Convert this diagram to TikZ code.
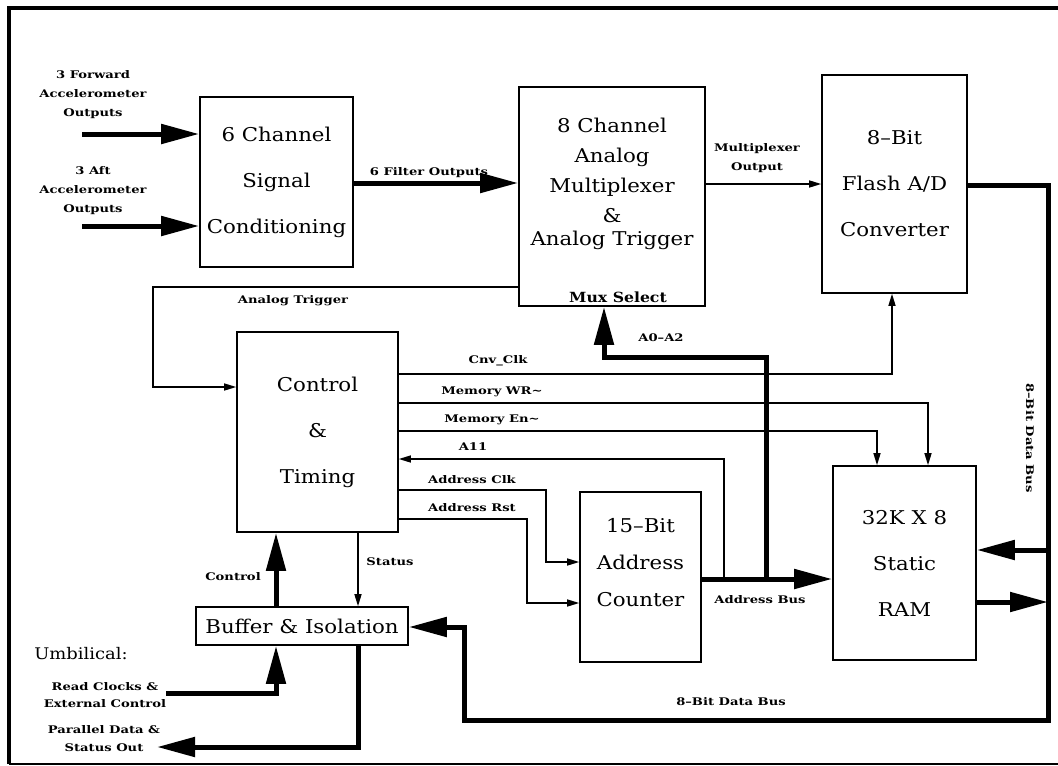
\documentclass[tikz,border=0pt]{standalone}
\usepackage{fontspec}
\newfontfamily\blkfont[FakeStretch=1.12]{DejaVu Serif}
\newfontfamily\lblfont[FakeStretch=1.25]{DejaVu Serif}
\usetikzlibrary{arrows.meta, positioning}

\begin{document}
\begin{tikzpicture}[
  x=1pt, y=-1pt,
  block/.style={draw, line width=1.6pt, inner sep=0pt, align=center,
                font=\blkfont\fontsize{19}{46}\selectfont},
  blocktext/.style={inner sep=0pt, align=center, font=\blkfont\fontsize{19}{30}\selectfont},
  tag/.style={inner sep=0pt, align=center, font=\lblfont\bfseries\fontsize{10.5}{19}\selectfont},
  bus/.style={line width=5pt, -{Triangle[length=38pt, width=19pt]}},
  busline/.style={line width=5pt},
  wire/.style={line width=1.4pt, -{Triangle[length=12pt, width=7pt]}},
]
\useasboundingbox (0,0) rectangle (1058,766);

% Frame
\draw[line width=4pt] (1058,7.5) -- (9,7.5) -- (9,764);
\draw[line width=2pt] (9,764) -- (1058,764);

% Blocks
\node[block, minimum width=153pt, minimum height=170pt] (sig) at (276.5,182) {6 Channel\\Signal\\Conditioning};

\node[block, minimum width=186pt, minimum height=219pt] (mux) at (612,196.5) {};
\node[blocktext] (muxtxt) at ([yshift=12.5pt]mux.center) {8 Channel\\Analog\\Multiplexer\\\&\\[-7pt]Analog Trigger};
\node[inner sep=0pt, font=\blkfont\bfseries\fontsize{14}{16}\selectfont] (muxsel) at (618,297) {Mux Select};

\node[block, minimum width=145pt, minimum height=218pt] (adc) at (894.5,184) {8–Bit\\Flash A/D\\Converter};

\node[block, minimum width=161pt, minimum height=200pt] (ctl) at (317.5,432) {Control\\\&\\Timing};

\node[block, minimum width=121pt, minimum height=170pt] (cnt) at (640.5,577) {};
\node[blocktext, font=\blkfont\fontsize{19}{37}\selectfont] (cnttxt) at ([yshift=14pt]cnt.center) {15–Bit\\Address\\Counter};

\node[block, minimum width=143pt, minimum height=194pt] (ram) at (904.5,563) {32K X 8\\Static\\RAM};

\node[block, minimum width=212pt, minimum height=38pt] (buf) at (302,626) {Buffer \& Isolation};

% Bus junctions and free ends
\coordinate (fwdin) at (82,134);
\coordinate (aftin) at (82,226);
\coordinate (abr) at (766,579);
\coordinate (a11br) at (724,579);
\coordinate (dbin) at (1048,550);
\coordinate (dbout) at (1048,602);
\coordinate (rdin) at (166,693);
\coordinate (parout) at (157,747);

% Analog path
\draw[bus] (fwdin) -- (sig.west |- fwdin);
\draw[bus] (aftin) -- (sig.west |- aftin);
\draw[bus] (sig.east |- 0,183) -- (mux.west |- 0,183);
\draw[wire] (mux.east |- 0,184) -- (adc.west |- 0,184);
\draw[wire] (mux.west |- 0,287) -| (153,387) -- (ctl.west |- 0,387);

% Data bus
\draw[bus] (adc.east |- 0,185) -- (1048,185) -- (1048,720) -- (464,720) -- (464,627) -- (buf.east |- 0,627);
\draw[bus] (dbin) -- (ram.east |- dbin);
\draw[bus] (ram.east |- dbout) -- (dbout);

% Address bus
\draw[bus] (cnt.east |- 0,579) -- (ram.west |- 0,579);
\draw[bus] (abr) |- (604,357) -- (mux.south -| 604,0);
\draw[wire] (a11br) |- (ctl.east |- 0,459);

% Control lines
\draw[wire] (ctl.east |- 0,374) -| (adc.south -| 892,0);
\draw[wire] (ctl.east |- 0,403) -| (ram.north -| 928,0);
\draw[wire] (ctl.east |- 0,431) -| (ram.north -| 877,0);
\draw[wire] (ctl.east |- 0,490) -| (546,562) -- (cnt.west |- 0,562);
\draw[wire] (ctl.east |- 0,519) -| (527,603) -- (cnt.west |- 0,603);

% Umbilical
\draw[bus] (buf.north -| 276,0) -- (ctl.south -| 276,0);
\draw[wire] (ctl.south -| 358,0) -- (buf.north -| 358,0);
\draw[bus] (rdin) -| (buf.south -| 276,0);
\draw[bus] (buf.south -| 358,0) |- (parout);

% Labels
\node[tag] (fwdlbl) at (93,95) {3 Forward\\Accelerometer\\Outputs};
\node[tag] (aftlbl) at (93,191) {3 Aft\\Accelerometer\\Outputs};
\node[tag] (filtlbl) at (429,173) {6 Filter Outputs};
\node[tag] (muxoutlbl) at (757,158) {Multiplexer\\Output};
\node[tag] (trglbl) at (293,301) {Analog Trigger};
\node[tag] (cnvlbl) at (498,361) {Cnv\_Clk};
\node[tag] (wrlbl) at (492,392) {Memory WR\textasciitilde};
\node[tag] (enlbl) at (492,420) {Memory En\textasciitilde};
\node[tag] (a11lbl) at (473,447) {A11};
\node[tag] (clklbl) at (472,480) {Address Clk};
\node[tag] (rstlbl) at (472,508) {Address Rst};
\node[tag] (sellbl) at (661,338) {A0–A2};
\node[tag] (abuslbl) at (760,600) {Address Bus};
\node[tag] (dbuslbl) at (731,702) {8–Bit Data Bus};
\node[tag, rotate=-90] (dbusvlbl) at (1030,438) {8–Bit Data Bus};
\node[tag] (ctrllbl) at (233,577) {Control};
\node[tag] (statlbl) at (390,562) {Status};
\node[inner sep=0pt, font=\blkfont\fontsize{16}{18}\selectfont] (umblbl) at (81,654) {Umbilical:};
\node[tag, font=\lblfont\bfseries\fontsize{10.5}{17}\selectfont] (rdlbl) at (105,695.5) {Read Clocks \&\\External Control};
\node[tag, font=\lblfont\bfseries\fontsize{10.5}{18}\selectfont] (parlbl) at (104,739) {Parallel Data \&\\Status Out};

\end{tikzpicture}
\end{document}
